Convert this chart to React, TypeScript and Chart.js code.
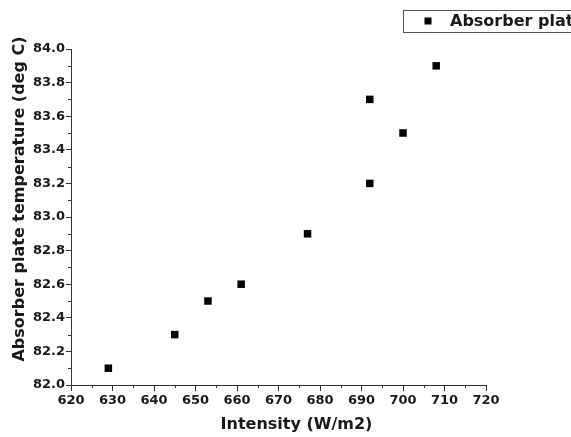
import React, { useEffect, useRef } from "react";
import { Chart, registerables } from "chart.js";

Chart.register(...registerables);

const intensity = [629, 645, 653, 661, 677, 692, 692, 700, 708];
const plateTemp = [82.1, 82.3, 82.5, 82.6, 82.9, 83.2, 83.7, 83.5, 83.9];
const seriesLabel = "Absorber plate temperature";
const xTitle = "Intensity (W/m2)";
const yTitle = "Absorber plate temperature (deg C)";
const xMin = 620, xMax = 720, xStep = 10;
const yMin = 82, yMax = 84, yStep = 0.2;

const FONT = "'DejaVu Sans', sans-serif";
const INK = "#1a1a1a";

const extras = {
  id: "extras",
  afterDraw(chart: any) {
    const ctx = chart.ctx;
    const { chartArea } = chart;
    const xs = chart.scales.x;
    const ys = chart.scales.y;
    ctx.save();
    ctx.strokeStyle = "#333";
    ctx.lineWidth = 1;
    // minor ticks
    for (let v = xMin + xStep / 2; v < xMax; v += xStep) {
      const px = Math.round(xs.getPixelForValue(v)) + 0.5;
      ctx.beginPath();
      ctx.moveTo(px, chartArea.bottom);
      ctx.lineTo(px, chartArea.bottom + 3);
      ctx.stroke();
    }
    for (let v = yMin + yStep / 2; v < yMax; v += yStep) {
      const py = Math.round(ys.getPixelForValue(v)) + 0.5;
      ctx.beginPath();
      ctx.moveTo(chartArea.left, py);
      ctx.lineTo(chartArea.left - 3, py);
      ctx.stroke();
    }
    // axis titles
    ctx.fillStyle = INK;
    ctx.font = `bold 16px ${FONT}`;
    ctx.textAlign = "center";
    ctx.textBaseline = "middle";
    ctx.fillText(xTitle, (chartArea.left + chartArea.right) / 2 + 18, chartArea.bottom + 40);
    ctx.save();
    ctx.translate(20, (chartArea.top + chartArea.bottom) / 2 - 18);
    ctx.rotate(-Math.PI / 2);
    ctx.fillText(yTitle, 0, 0);
    ctx.restore();
    // legend
    ctx.strokeStyle = "#555";
    ctx.lineWidth = 1;
    ctx.strokeRect(403.5, 10.5, 300, 22);
    ctx.fillStyle = "#000";
    ctx.fillRect(424.5, 17.5, 7, 7);
    ctx.fillStyle = INK;
    ctx.textAlign = "left";
    ctx.fillText(seriesLabel, 450, 21.5);
    ctx.restore();
  },
};

export default function App() {
  const ref = useRef<HTMLCanvasElement | null>(null);
  useEffect(() => {
    if (!ref.current) return;
    const chart = new Chart(ref.current, {
      type: "scatter",
      data: {
        datasets: [
          {
            label: seriesLabel,
            data: intensity.map((x, i) => ({ x, y: plateTemp[i] })),
            pointStyle: "rect",
            pointRadius: 5.3,
            backgroundColor: "#000",
            borderColor: "#000",
            borderWidth: 0,
          },
        ],
      },
      options: {
        animation: false,
        responsive: false,
        layout: { padding: { top: 49, right: 85, left: 0, bottom: 0 } },
        plugins: { legend: { display: false }, tooltip: { enabled: false } },
        scales: {
          x: {
            type: "linear",
            min: xMin,
            max: xMax,
            afterFit: (s: any) => { s.height = 52; },
            ticks: {
              stepSize: xStep,
              color: INK,
              font: { family: FONT, weight: "bold", size: 13 },
              padding: 2,
              maxRotation: 0,
            },
            grid: { display: true, drawOnChartArea: false, drawTicks: true, tickLength: 6, color: "#333" },
            border: { display: true, color: "#333", width: 1 },
          },
          y: {
            type: "linear",
            min: yMin,
            max: yMax,
            afterFit: (s: any) => { s.width = 71; },
            ticks: {
              stepSize: yStep,
              color: INK,
              font: { family: FONT, weight: "bold", size: 13 },
              padding: 1,
              callback: (v: any) => Number(v).toFixed(1),
            },
            grid: { display: true, drawOnChartArea: false, drawTicks: true, tickLength: 5, color: "#333" },
            border: { display: true, color: "#333", width: 1 },
          },
        },
      },
      plugins: [extras],
    });
    return () => chart.destroy();
  }, []);
  return (
    <div style={{ position: "absolute", left: 0, top: 0, width: 571, height: 437, background: "#fff", overflow: "hidden" }}>
      <canvas ref={ref} width={571} height={437} style={{ display: "block" }} />
    </div>
  );
}
